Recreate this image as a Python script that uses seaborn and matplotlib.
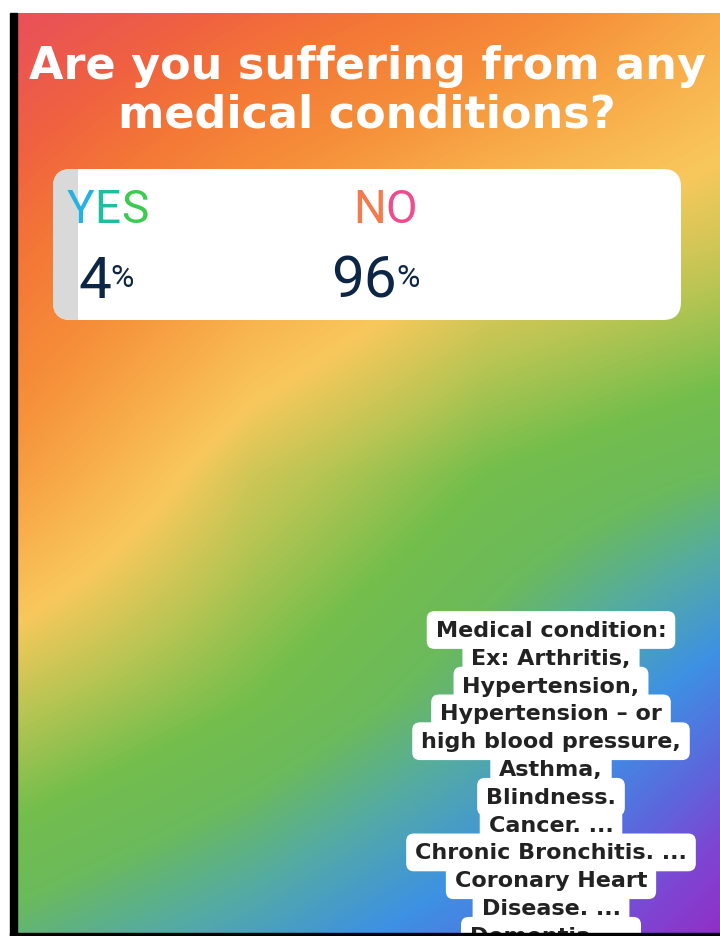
import numpy as np
import matplotlib
matplotlib.use("Agg")
import matplotlib.pyplot as plt
from matplotlib import font_manager
from matplotlib.patches import FancyBboxPatch, Rectangle
from matplotlib.colors import LinearSegmentedColormap
import seaborn as sns
import pandas as pd

# ---------------- data ----------------
title_lines = ["Are you suffering from any", "medical conditions?"]
options = ["YES", "NO"]
percents = [4, 96]
yes_letter_colors = ["#22B2E4", "#1FBE9E", "#3CCB50"]
no_letter_colors = ["#F47B4B", "#F04C8C"]
note_lines = [
    "Medical condition:",
    "Ex: Arthritis,",
    "Hypertension,",
    "Hypertension \u2013 or",
    "high blood pressure,",
    "Asthma,",
    "Blindness.",
    "Cancer. ...",
    "Chronic Bronchitis. ...",
    "Coronary Heart",
    "Disease. ...",
    "Dementia. ...",
]

W, H = 720, 937
fig = plt.figure(figsize=(W / 100, H / 100), dpi=100, facecolor="white")

def has_font(name):
    try:
        font_manager.findfont(font_manager.FontProperties(family=name), fallback_to_default=False)
        return True
    except Exception:
        return False

narrow = "DejaVu Sans"
for cand in ["Roboto", "Liberation Sans Narrow"]:
    if has_font(cand):
        narrow = cand
        break

# ---------------- background ----------------
bg = fig.add_axes([0, 0, 1, 1], zorder=0)
bg.set_xlim(0, W)
bg.set_ylim(H, 0)
bg.axis("off")

stops = [
    (0.00, "#E9505A"), (0.10, "#F06240"), (0.18, "#F47836"), (0.28, "#F6903A"),
    (0.36, "#F8AA48"), (0.45, "#F9C85C"), (0.53, "#B8C553"), (0.60, "#74BE4C"),
    (0.66, "#6BBA5C"), (0.72, "#55ACA0"), (0.80, "#3D91E4"), (0.88, "#5D66DC"),
    (0.94, "#7E45D2"), (1.00, "#9030C8"),
]
cmap = LinearSegmentedColormap.from_list("story", stops)
x0, x1, y0, y1 = 16, W, 14, 934
gx = np.array([16, 250, 485, 720])
gy = np.array([14, 244, 474, 704, 934])
gt = np.array([
    [0.00, 0.12, 0.22, 0.36],
    [0.16, 0.33, 0.45, 0.50],
    [0.32, 0.50, 0.60, 0.66],
    [0.52, 0.60, 0.70, 0.84],
    [0.68, 0.75, 0.84, 1.00],
])
xs = np.linspace(x0, x1, 705)
ys = np.linspace(y0, y1, 921)
rows = np.array([np.interp(xs, gx, r) for r in gt])
T = np.array([np.interp(ys, gy, rows[:, j]) for j in range(len(xs))]).T
bg.imshow(T, cmap=cmap, vmin=0, vmax=1, extent=(x0, x1, y1, y0), aspect="auto",
          interpolation="bilinear", zorder=0)
bg.add_patch(Rectangle((10, 14), 6.5, H - 14, color="black", zorder=2))

# poll card
bx, by, bw, bh = 53, 170, 628, 151
card = FancyBboxPatch((bx, by), bw, bh, boxstyle="round,pad=0,rounding_size=18",
                      facecolor="white", edgecolor="none", zorder=1)
bg.add_patch(card)

# ---------------- result bar (seaborn) ----------------
bar_ax = fig.add_axes([bx / W, 1 - (by + bh) / H, bw / W, bh / H], zorder=1)
df = pd.DataFrame({"option": options[:1], "pct": percents[:1]})
sns.barplot(data=df, x="pct", y="option", orient="h", color="#D9D9D9",
            width=1.0, saturation=1, ax=bar_ax)
bar_ax.set_xlim(0, 100)
bar_ax.set_ylim(0.5, -0.5)
bar_ax.axis("off")
bar_ax.patch.set_alpha(0)
for p in bar_ax.patches:
    p.set_edgecolor("none")
    p.set_clip_path(card)

# ---------------- overlay texts ----------------
ov = fig.add_axes([0, 0, 1, 1], zorder=3)
ov.set_xlim(0, W)
ov.set_ylim(H, 0)
ov.axis("off")
ov.patch.set_alpha(0)
fig.canvas.draw()
rend = fig.canvas.get_renderer()

def seq(parts, x, y):
    for s, kw, dy in parts:
        t = ov.text(x, y + dy, s, va="baseline", ha="left", **kw)
        bb = t.get_window_extent(rend)
        x += bb.width
    return x

# title
for line, base in zip(title_lines, [79, 127]):
    ov.text(367, base, line, ha="center", va="baseline", color="white",
            fontsize=32, fontweight="bold", family="DejaVu Sans")

# YES / NO labels
lab_kw = dict(fontsize=33, family=narrow)
seq([(c, dict(color=col, **lab_kw), 0) for c, col in zip(options[0], yes_letter_colors)], 67, 223)
seq([(c, dict(color=col, **lab_kw), 0) for c, col in zip(options[1], no_letter_colors)], 353, 223)

num_kw = dict(fontsize=42, family=narrow, color="#0E2645")
pct_kw = dict(fontsize=23, family=narrow, color="#0E2645")
seq([(str(percents[0]), num_kw, 0), ("%", pct_kw, -11)], 78, 298)
seq([(str(percents[1]), num_kw, 0), ("%", pct_kw, -11)], 331, 298)

# note box
cx, base0, step = 551, 637, 27.8
for i, line in enumerate(note_lines):
    ov.text(cx, base0 + i * step, line, ha="center", va="baseline", color="white",
            fontsize=16, fontweight="bold", family="DejaVu Sans", zorder=3,
            bbox=dict(boxstyle="round,pad=0.4,rounding_size=0.35", fc="white", ec="none"))
for i, line in enumerate(note_lines):
    ov.text(cx, base0 + i * step, line, ha="center", va="baseline", color="#222222",
            fontsize=16, fontweight="bold", family="DejaVu Sans", zorder=4)

# black bottom bar over the note
ov.add_patch(Rectangle((10, 934), W - 10, 5, color="black", zorder=6))

fig.savefig("out.png", dpi=100, facecolor="white")
